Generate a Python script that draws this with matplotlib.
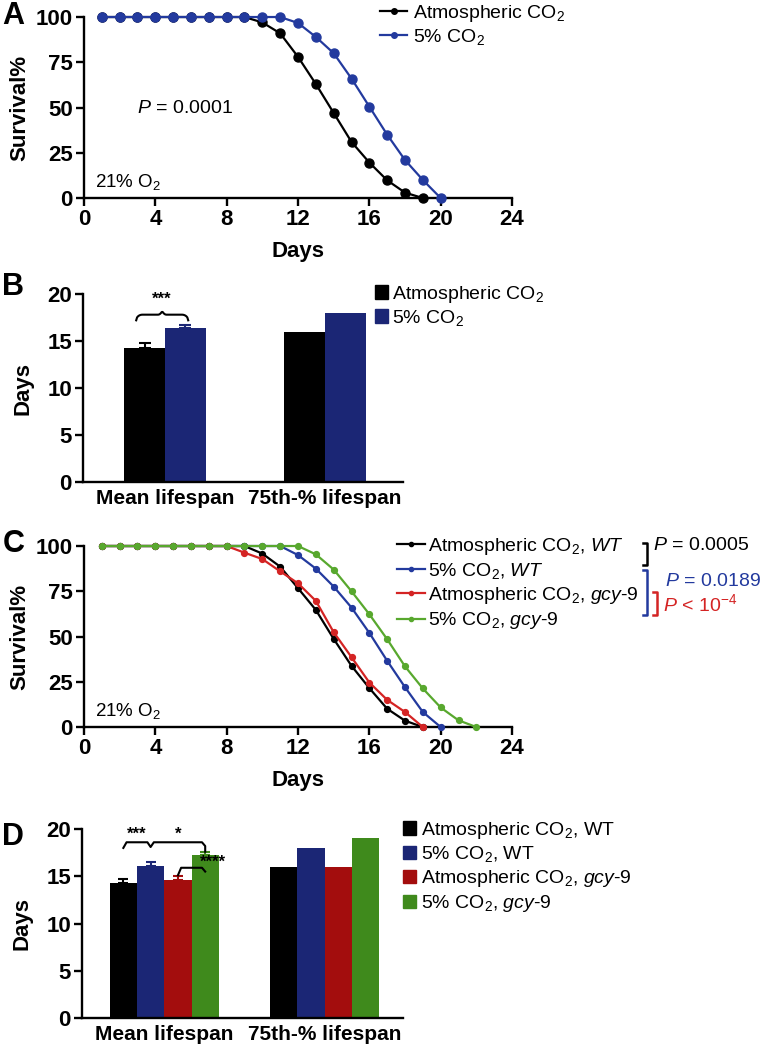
import numpy as np
import matplotlib
matplotlib.use("Agg")
import matplotlib.pyplot as plt
from matplotlib.patches import Patch
from matplotlib.lines import Line2D

plt.rcParams['font.family'] = ['Liberation Sans', 'DejaVu Sans']
plt.rcParams['mathtext.fontset'] = 'custom'
plt.rcParams['mathtext.rm'] = 'Liberation Sans'
plt.rcParams['mathtext.it'] = 'Liberation Sans:italic'
plt.rcParams['mathtext.bf'] = 'Liberation Sans:bold'

# ---- data ----
# panel A survival
a_atm = [100] * 9 + [97, 91, 78, 63, 47, 31, 19.6, 9.8, 3, 0]
a_co2 = [100] * 11 + [96.7, 89, 80, 66, 50.5, 35, 21, 10, 0]
# panel B
b_groups = ["Mean lifespan", "75th-% lifespan"]
b_atm = [14.3, 16.0]
b_co2 = [16.4, 18.0]
b_atm_err = 0.45   # only the mean has an error bar
b_co2_err = 0.3
# panel C survival
c_atm_wt = [100] * 9 + [95.8, 88.6, 76.7, 64.7, 48.7, 33.8, 21.5, 10.1, 3.5, 0]
c_co2_wt = [100] * 11 + [95, 87.5, 77.6, 66, 52, 36.6, 22, 8.3, 0]
c_atm_gcy = [100] * 8 + [96.3, 92.8, 86, 79.4, 69.7, 52.4, 38.6, 24.6, 15, 8.3, 0]
c_co2_gcy = [100] * 12 + [95.4, 87, 75, 62.3, 48.5, 33.5, 21.3, 10.8, 3.7, 0]
# panel D
d_atm_wt = [14.3, 16.0]
d_co2_wt = [16.1, 18.0]
d_atm_gcy = [14.6, 16.0]
d_co2_gcy = [17.2, 19.0]
d_err = [0.4, 0.45, 0.4, 0.4]

BLACK = "#000000"
BLUE_L = "#233a9e"
BLUE_B = "#1b2675"
RED_L = "#d42424"
RED_B = "#a30d0d"
GREEN_L = "#58a82e"
GREEN_B = "#3f8a1c"

TICK_FS = 16
LEG_FS = 14

fig = plt.figure(figsize=(7.6, 10.44), dpi=100)


def style(ax):
    for s in ['top', 'right']:
        ax.spines[s].set_visible(False)
    for s in ['left', 'bottom']:
        ax.spines[s].set_linewidth(1.7)
    ax.tick_params(width=1.7, length=6, labelsize=TICK_FS, pad=2)
    for lab in ax.get_xticklabels() + ax.get_yticklabels():
        lab.set_fontweight('bold')


def survival(ax, series, ms):
    for vals, col in series:
        d = np.arange(1, len(vals) + 1)
        ax.plot(d, vals, '-o', color=col, lw=1.6, ms=ms, clip_on=False, zorder=3)
    ax.set_xlim(0, 24)
    ax.set_ylim(0, 100)
    ax.set_xticks([0, 4, 8, 12, 16, 20, 24])
    ax.set_yticks([0, 25, 50, 75, 100])
    ax.set_xlabel("Days", fontsize=TICK_FS, fontweight='bold', labelpad=8)
    ax.set_ylabel("Survival%", fontsize=TICK_FS, fontweight='bold', labelpad=4)
    ax.text(0.6, 6, "21% O$_2$", fontsize=13.5)
    style(ax)


def brace(ax, x1, x2, y, h):
    # curly brace opening downward with a peak in the middle
    t = np.linspace(0, 1, 60)
    xs = x1 + (x2 - x1) * t
    edge = np.clip(np.minimum(t, 1 - t) / 0.12, 0, 1)
    ys = y - h * (1 - np.sqrt(1 - (1 - edge) ** 2))
    mid = np.clip(1 - np.abs(t - 0.5) / 0.08, 0, 1)
    ys = ys + 0.6 * h * mid ** 2
    ax.plot(xs, ys, color='k', lw=1.5, clip_on=False)


def bar_axes(ax):
    ax.set_xlim(-0.5125, 1.4875)
    ax.set_ylim(0, 20)
    ax.set_yticks([0, 5, 10, 15, 20])
    ax.set_xticks(x)
    ax.set_xticklabels(b_groups)
    ax.set_ylabel("Days", fontsize=TICK_FS, fontweight='bold', labelpad=10)
    style(ax)
    ax.tick_params(axis='x', length=0, pad=5, labelsize=15)


# ---- panel A ----
axA = fig.add_axes([0.1105, 0.8103, 0.5632, 0.1734])
survival(axA, [(a_atm, BLACK), (a_co2, BLUE_L)], 6.5)
axA.text(3.0, 47, "$P$ = 0.0001", fontsize=14)
axA.legend(handles=[Line2D([], [], color=BLACK, marker='o', ms=4, lw=1.6),
                    Line2D([], [], color=BLUE_L, marker='o', ms=4, lw=1.6)],
           labels=["Atmospheric CO$_2$", "5% CO$_2$"], fontsize=LEG_FS,
           frameon=False, loc='upper left', bbox_to_anchor=(0.5, 0.997),
           bbox_transform=fig.transFigure, handlelength=1.4, handletextpad=0.3,
           labelspacing=0.15, borderpad=0, borderaxespad=0)

# ---- panel B ----
axB = fig.add_axes([0.1092, 0.5383, 0.4211, 0.1801])
x = np.arange(len(b_groups))
w = 0.256
axB.bar(x - w / 2, b_atm, w, color=BLACK)
axB.bar(x + w / 2, b_co2, w, color=BLUE_B)
axB.errorbar(x[0] - w / 2, b_atm[0], yerr=[[0], [b_atm_err]], fmt='none', ecolor=BLACK, capsize=4, elinewidth=1.5, capthick=1.5)
axB.errorbar(x[0] + w / 2, b_co2[0], yerr=[[0], [b_co2_err]], fmt='none', ecolor=BLUE_B, capsize=4, elinewidth=1.5, capthick=1.5)
bar_axes(axB)
brace(axB, -0.18, 0.145, 17.8, 0.6)
axB.text(-0.02, 18.6, "***", ha='center', va='bottom', fontsize=12, fontweight='bold')
axB.legend(handles=[Patch(color=BLACK), Patch(color=BLUE_B)],
           labels=["Atmospheric CO$_2$", "5% CO$_2$"], fontsize=LEG_FS,
           frameon=False, loc='upper left', bbox_to_anchor=(0.493, 0.728),
           bbox_transform=fig.transFigure, handlelength=0.7, handleheight=0.7,
           handletextpad=0.2, labelspacing=0.15, borderpad=0, borderaxespad=0)

# ---- panel C ----
axC = fig.add_axes([0.1105, 0.3036, 0.5632, 0.1734])
survival(axC, [(c_atm_wt, BLACK), (c_co2_wt, BLUE_L), (c_atm_gcy, RED_L), (c_co2_gcy, GREEN_L)], 4.2)
c_cols = [BLACK, BLUE_L, RED_L, GREEN_L]
c_labels = ["Atmospheric CO$_2$, $\\mathit{WT}$", "5% CO$_2$, $\\mathit{WT}$",
            "Atmospheric CO$_2$, $\\mathit{gcy}$-$\\mathit{9}$", "5% CO$_2$, $\\mathit{gcy}$-$\\mathit{9}$"]
axC.legend(handles=[Line2D([], [], color=c, marker='o', ms=3, lw=1.6) for c in c_cols],
           labels=c_labels, fontsize=LEG_FS, frameon=False, loc='upper left',
           bbox_to_anchor=(0.523, 0.487), bbox_transform=fig.transFigure,
           handlelength=1.4, handletextpad=0.15, labelspacing=0.22, borderpad=0, borderaxespad=0)


def fig_bracket(x, y1, y2, col):
    t = fig.transFigure
    fig.add_artist(Line2D([x - 4 / 760, x, x, x - 4 / 760], [y1, y1, y2, y2], color=col, lw=1.8, transform=t))


fig_bracket(647 / 760, 1 - 543 / 1044, 1 - 565 / 1044, BLACK)
fig_bracket(647 / 760, 1 - 570 / 1044, 1 - 615 / 1044, BLUE_L)
fig_bracket(657 / 760, 1 - 592 / 1044, 1 - 615 / 1044, RED_L)
fig.text(653 / 760, 1 - 545 / 1044, "$P$ = 0.0005", fontsize=LEG_FS, color=BLACK, va='center')
fig.text(665 / 760, 1 - 582 / 1044, "$P$ = 0.0189", fontsize=LEG_FS, color=BLUE_L, va='center')
fig.text(663 / 760, 1 - 604 / 1044, "$P$ < 10$^{-4}$", fontsize=LEG_FS, color=RED_L, va='center')

# ---- panel D ----
axD = fig.add_axes([0.1079, 0.0249, 0.4224, 0.181])
wd = 0.17
d_series = [(d_atm_wt, BLACK), (d_co2_wt, BLUE_B), (d_atm_gcy, RED_B), (d_co2_gcy, GREEN_B)]
offs = (np.arange(4) - 1.5) * wd
for (vals, col), off, err in zip(d_series, offs, d_err):
    axD.bar(x + off, vals, wd, color=col)
    axD.errorbar(x[0] + off, vals[0], yerr=[[0], [err]], fmt='none', ecolor=col, capsize=3.5, elinewidth=1.5, capthick=1.5)
bar_axes(axD)
# combined bracket black-blue (***) and blue-green (*)
xb, xu, xg = offs[0], offs[1], offs[3]
yb = 18.6
axD.plot([xb, xb + 0.02, xu - 0.02, xu, xu + 0.02, xg - 0.02, xg, xg],
         [yb - 0.6, yb, yb, yb - 0.5, yb, yb, yb - 0.4, yb - 1.0], color='k', lw=1.5, clip_on=False)
axD.text((xb + xu) / 2, yb + 0.1, "***", ha='center', va='bottom', fontsize=12, fontweight='bold')
axD.text((xu + xg) / 2, yb + 0.1, "*", ha='center', va='bottom', fontsize=12, fontweight='bold')
yr = 15.9
axD.plot([offs[2], offs[2] + 0.02, xg - 0.02, xg],
         [yr - 0.8, yr, yr, yr - 0.4], color='k', lw=1.5, clip_on=False)
axD.text(xg - 0.03, 15.7, "****", ha='left', va='bottom', fontsize=12, fontweight='bold')
d_labels = ["Atmospheric CO$_2$, WT", "5% CO$_2$, WT",
            "Atmospheric CO$_2$, $\\mathit{gcy}$-$\\mathit{9}$", "5% CO$_2$, $\\mathit{gcy}$-$\\mathit{9}$"]
axD.legend(handles=[Patch(color=c) for _, c in d_series], labels=d_labels, fontsize=LEG_FS,
           frameon=False, loc='upper left', bbox_to_anchor=(0.53, 0.215),
           bbox_transform=fig.transFigure, handlelength=0.7, handleheight=0.7,
           handletextpad=0.25, labelspacing=0.2, borderpad=0, borderaxespad=0)

for lab, yy in zip("ABCD", [16, 287, 544, 837]):
    fig.text(0.003, 1 - yy / 1044, lab, fontsize=22, fontweight='bold', va='center')

fig.savefig("out.png", dpi=100)
